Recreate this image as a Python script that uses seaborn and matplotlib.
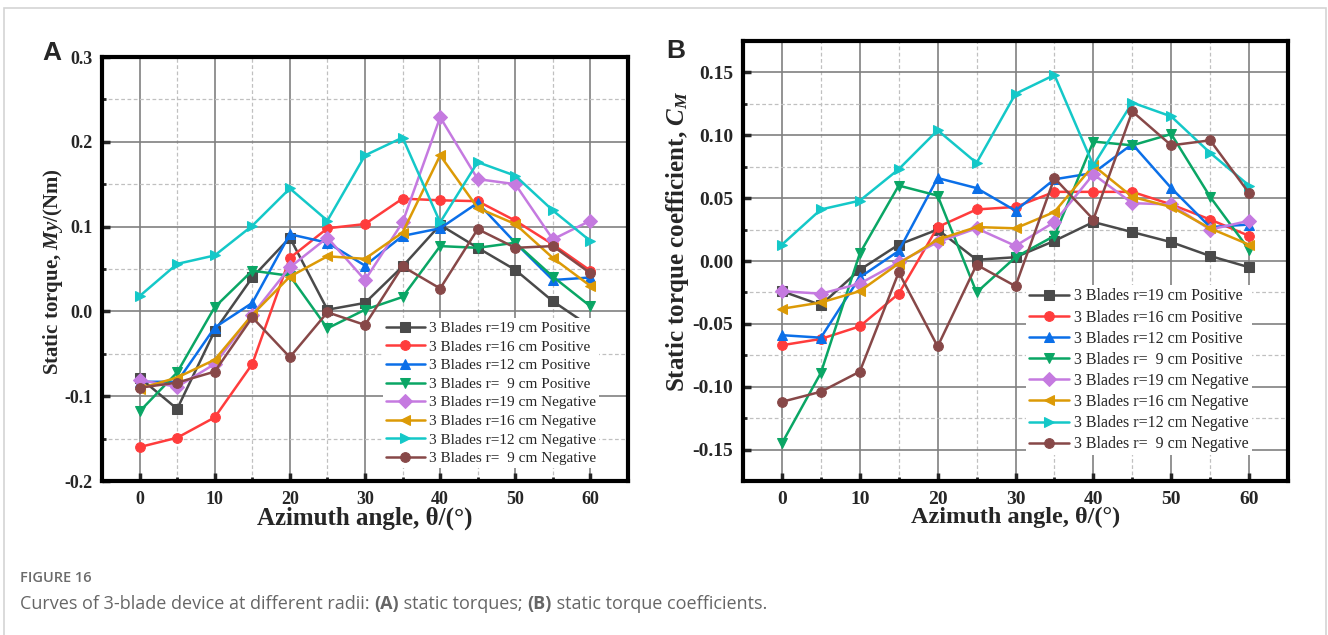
import matplotlib
matplotlib.use("Agg")
import matplotlib.pyplot as plt
import pandas as pd
import seaborn as sns
from matplotlib.ticker import MultipleLocator, FormatStrFormatter
from matplotlib.patches import Rectangle

angles = [0, 5, 10, 15, 20, 25, 30, 35, 40, 45, 50, 55, 60]

labels = ["3 Blades r=19 cm Positive", "3 Blades r=16 cm Positive",
          "3 Blades r=12 cm Positive", "3 Blades r=  9 cm Positive",
          "3 Blades r=19 cm Negative", "3 Blades r=16 cm Negative",
          "3 Blades r=12 cm Negative", "3 Blades r=  9 cm Negative"]

colors = ["#4a4a4a", "#ff3c3c", "#0b6fe8", "#0aa665",
          "#c57ae0", "#dc9a06", "#14c8c8", "#874848"]
markers = ["s", "o", "^", "v", "D", "<", ">", "o"]

# (A) static torque My (Nm)
torque_r19_pos = [-0.078, -0.115, -0.023, 0.040, 0.087, 0.002, 0.010, 0.053, 0.102, 0.075, 0.049, 0.012, -0.018]
torque_r16_pos = [-0.160, -0.149, -0.125, -0.062, 0.063, 0.098, 0.103, 0.133, 0.131, 0.130, 0.107, 0.079, 0.048]
torque_r12_pos = [-0.083, -0.083, -0.019, 0.010, 0.091, 0.081, 0.054, 0.089, 0.098, 0.128, 0.081, 0.037, 0.040]
torque_r9_pos = [-0.118, -0.072, 0.005, 0.048, 0.042, -0.020, 0.002, 0.017, 0.077, 0.075, 0.081, 0.041, 0.006]
torque_r19_neg = [-0.081, -0.089, -0.062, -0.004, 0.052, 0.087, 0.037, 0.105, 0.229, 0.156, 0.150, 0.085, 0.107]
torque_r16_neg = [-0.091, -0.078, -0.057, -0.004, 0.041, 0.065, 0.062, 0.093, 0.184, 0.122, 0.103, 0.063, 0.030]
torque_r12_neg = [0.018, 0.056, 0.066, 0.101, 0.145, 0.107, 0.184, 0.205, 0.105, 0.176, 0.160, 0.119, 0.083]
torque_r9_neg = [-0.090, -0.084, -0.071, -0.007, -0.054, -0.001, -0.016, 0.053, 0.027, 0.097, 0.075, 0.077, 0.045]

# (B) static torque coefficient CM
cm_r19_pos = [-0.024, -0.035, -0.007, 0.013, 0.025, 0.001, 0.003, 0.016, 0.031, 0.023, 0.015, 0.004, -0.005]
cm_r16_pos = [-0.067, -0.062, -0.052, -0.026, 0.027, 0.041, 0.043, 0.055, 0.055, 0.055, 0.045, 0.033, 0.020]
cm_r12_pos = [-0.059, -0.061, -0.013, 0.008, 0.066, 0.058, 0.040, 0.065, 0.070, 0.093, 0.058, 0.027, 0.029]
cm_r9_pos = [-0.145, -0.089, 0.006, 0.060, 0.052, -0.025, 0.003, 0.020, 0.095, 0.092, 0.101, 0.051, 0.009]
cm_r19_neg = [-0.024, -0.026, -0.018, -0.001, 0.015, 0.026, 0.012, 0.031, 0.069, 0.046, 0.045, 0.025, 0.032]
cm_r16_neg = [-0.038, -0.033, -0.024, -0.002, 0.017, 0.027, 0.026, 0.039, 0.076, 0.051, 0.043, 0.026, 0.013]
cm_r12_neg = [0.013, 0.041, 0.048, 0.073, 0.104, 0.078, 0.133, 0.148, 0.076, 0.126, 0.115, 0.086, 0.060]
cm_r9_neg = [-0.112, -0.104, -0.088, -0.009, -0.068, -0.003, -0.020, 0.066, 0.033, 0.119, 0.092, 0.096, 0.054]

torque_series = [torque_r19_pos, torque_r16_pos, torque_r12_pos, torque_r9_pos,
                 torque_r19_neg, torque_r16_neg, torque_r12_neg, torque_r9_neg]
cm_series = [cm_r19_pos, cm_r16_pos, cm_r12_pos, cm_r9_pos,
             cm_r19_neg, cm_r16_neg, cm_r12_neg, cm_r9_neg]


def long_df(series):
    rows = []
    for lab, vals in zip(labels, series):
        for a, v in zip(angles, vals):
            rows.append({"angle": a, "value": v, "series": lab})
    return pd.DataFrame(rows)


sns.set_theme(style="ticks")
plt.rcParams["font.family"] = ["Liberation Serif", "DejaVu Serif"]
plt.rcParams["mathtext.fontset"] = "custom"
plt.rcParams["mathtext.rm"] = "Liberation Serif:bold"
plt.rcParams["mathtext.it"] = "Liberation Serif:bold:italic"
plt.rcParams["axes.unicode_minus"] = False

fig = plt.figure(figsize=(13.28, 6.35), dpi=100)
axA = fig.add_axes([102 / 1328, 1 - 481 / 635, 526 / 1328, 424 / 635])
axB = fig.add_axes([743 / 1328, 1 - 481 / 635, 545 / 1328, 440 / 635])

palette = dict(zip(labels, colors))
mk = dict(zip(labels, markers))


def draw(ax, series, ylim, ymaj, fmt, ylabel, tick_fs, xl_fs, yl_fs, leg_fs, leg_anchor):
    df = long_df(series)
    sns.lineplot(data=df, x="angle", y="value", hue="series", style="series",
                 hue_order=labels, style_order=labels, palette=palette,
                 markers=mk, dashes=False, markersize=7, linewidth=1.8,
                 legend=False, ax=ax)
    for line in ax.lines:
        line.set_markeredgecolor(line.get_color())
    ax.set_xlim(-5, 65)
    ax.set_ylim(*ylim)
    ax.xaxis.set_major_locator(MultipleLocator(10))
    ax.xaxis.set_minor_locator(MultipleLocator(5))
    ax.yaxis.set_major_locator(MultipleLocator(ymaj))
    ax.yaxis.set_minor_locator(MultipleLocator(ymaj / 2))
    ax.yaxis.set_major_formatter(FormatStrFormatter(fmt))
    ax.set_axisbelow(True)
    ax.grid(which="major", color="#808080", lw=1.2, ls="-")
    ax.grid(which="minor", color="#c0c0c0", lw=0.9, ls=(0, (3, 2)))
    for sp in ax.spines.values():
        sp.set_linewidth(3)
        sp.set_color("black")
    ax.tick_params(which="major", direction="in", length=6, width=2.5,
                   labelsize=tick_fs, pad=7, top=False, right=False)
    ax.tick_params(which="minor", direction="in", length=3, width=2,
                   top=False, right=False)
    for t in ax.get_xticklabels() + ax.get_yticklabels():
        t.set_fontweight("bold")
    ax.set_xlabel("Azimuth angle, θ/(°)", fontsize=xl_fs, fontweight="bold")
    ax.set_ylabel(ylabel, fontsize=yl_fs, fontweight="bold")
    handles = list(ax.lines)
    ax.legend(handles, labels, loc="lower right", bbox_to_anchor=leg_anchor,
              fontsize=leg_fs, labelspacing=0.32, handlelength=2.5,
              handletextpad=0.3, borderpad=0.2, frameon=True,
              fancybox=False, framealpha=1, edgecolor="none",
              facecolor="white")
    return ax


draw(axA, torque_series, (-0.2, 0.3), 0.1, "%.1f",
     r"Static torque, $My$/(Nm)", 13, 18, 15, 11, (0.96, 0.012))
draw(axB, cm_series, (-0.175, 0.175), 0.05, "%.2f",
     r"Static torque coefficient, $C_M$", 14, 17.5, 18, 11.5, (0.948, 0.04))

axA.yaxis.set_label_coords(-0.07, 0.494)
axB.yaxis.set_label_coords(-0.095, 0.544)
axA.xaxis.set_label_coords(0.5, -0.06)
axB.xaxis.set_label_coords(0.5, -0.058)

fig.text(52 / 1328, 1 - 53 / 635, "A", family="Liberation Sans", weight="bold",
         fontsize=19, ha="center", va="center")
fig.text(676 / 1328, 1 - 51 / 635, "B", family="Liberation Sans", weight="bold",
         fontsize=19, ha="center", va="center")

# page frame
fig.add_artist(Rectangle((4 / 1328, -0.05), 1322 / 1328, 1.05 - 8 / 635,
                         transform=fig.transFigure, fill=False,
                         edgecolor="#d4d4d4", lw=1.2))

# caption
fig.text(20 / 1328, 1 - 578 / 635, "FIGURE 16", family="Open Sans",
         weight="semibold", fontsize=10.5, color="#6b6b6b", va="center")
pieces = [("Curves of 3-blade device at different radii: ", "normal"),
          ("(A)", "bold"), (" static torques; ", "normal"),
          ("(B)", "bold"), (" static torque coefficients.", "normal")]
renderer = fig.canvas.get_renderer()
x = 20 / 1328
for txt, w in pieces:
    t = fig.text(x, 1 - 604 / 635, txt, family="Open Sans", weight=w,
                 fontsize=13, color="#666666", va="center")
    bb = t.get_window_extent(renderer=renderer)
    x = bb.x1 / fig.bbox.width

fig.savefig("out.png", dpi=100)
